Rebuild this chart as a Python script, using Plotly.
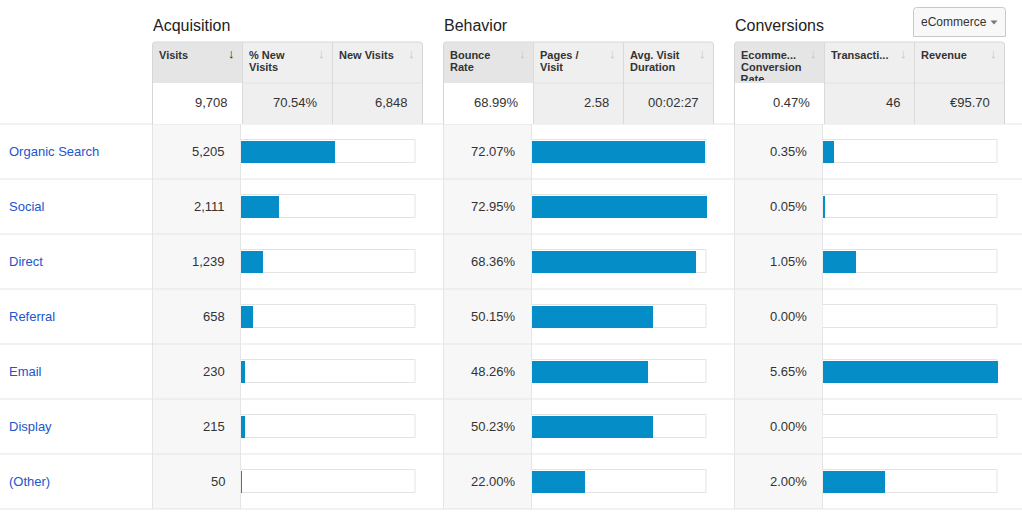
import plotly.graph_objects as go

W, H = 1022, 515

# ---------------- data ----------------
channels = ["Organic Search", "Social", "Direct", "Referral", "Email", "Display", "(Other)"]
visits = [5205, 2111, 1239, 658, 230, 215, 50]
bounce_rate = [72.07, 72.95, 68.36, 50.15, 48.26, 50.23, 22.00]
conv_rate = [0.35, 0.05, 1.05, 0.00, 5.65, 0.00, 2.00]

group_titles = ["Acquisition", "Behavior", "Conversions"]
header_labels = [
    [["Visits"], ["% New", "Visits"], ["New Visits"]],
    [["Bounce", "Rate"], ["Pages /", "Visit"], ["Avg. Visit", "Duration"]],
    [["Ecomme...", "Conversion"], ["Transacti..."], ["Revenue"]],
]
clipped_label = "Rate"
summary_values = [["9,708", "70.54%", "6,848"],
                  ["68.99%", "2.58", "00:02:27"],
                  ["0.47%", "46", "€95.70"]]
dropdown_label = "eCommerce"

visit_text = [f"{v:,}" for v in visits]
bounce_text = [f"{v:.2f}%" for v in bounce_rate]
conv_text = [f"{v:.2f}%" for v in conv_rate]

# ---------------- layout helpers (pixel -> paper) ----------------
FONT = "Liberation Sans, Arial, Helvetica, sans-serif"
BLUE = "#058dc7"
LINE = "#e5e5e5"
TXT = "#333333"


def X(x):
    return x / W


def Y(y):
    return 1 - y / H


G = [152.5, 443.5, 734.5]          # left edge of each group
ROW_TOP, ROW_H, NROW = 124, 55, len(channels)
ROW_BOT = ROW_TOP + ROW_H * NROW

shapes = []
annotations = []


def rect(x0, y0, x1, y1, fill=None, line=None, lw=1):
    shapes.append(dict(type="rect", xref="paper", yref="paper", layer="below",
                       x0=X(x0), x1=X(x1), y0=Y(y1), y1=Y(y0),
                       fillcolor=fill or "rgba(0,0,0,0)",
                       line=dict(color=line or "rgba(0,0,0,0)", width=lw if line else 0)))


def hline(x0, x1, y, color=LINE):
    shapes.append(dict(type="line", xref="paper", yref="paper", layer="below",
                       x0=X(x0), x1=X(x1), y0=Y(y), y1=Y(y), line=dict(color=color, width=1)))


def vline(x, y0, y1, color=LINE):
    shapes.append(dict(type="line", xref="paper", yref="paper", layer="below",
                       x0=X(x), x1=X(x), y0=Y(y0), y1=Y(y1), line=dict(color=color, width=1)))


def rpath(x0, y0, x1, y1, r, fill, line, closed_bottom=True):
    p = (f"M {X(x0)},{Y(y1)} L {X(x0)},{Y(y0 + r)} Q {X(x0)},{Y(y0)} {X(x0 + r)},{Y(y0)} "
         f"L {X(x1 - r)},{Y(y0)} Q {X(x1)},{Y(y0)} {X(x1)},{Y(y0 + r)} L {X(x1)},{Y(y1)}")
    if closed_bottom:
        p += " Z"
    shapes.append(dict(type="path", xref="paper", yref="paper", layer="below", path=p,
                       fillcolor=fill, line=dict(color=line, width=1)))


def text(x, y, s, size=13, color=TXT, xanchor="left", bold=False, yref="paper"):
    # compensate the annotation's internal padding
    if xanchor == "left":
        x -= 2
    elif xanchor == "right":
        x += 2
    annotations.append(dict(x=X(x), y=(Y(y) if yref == "paper" else y), xref="paper", yref=yref,
                            text=(f"<b>{s}</b>" if bold else s), showarrow=False,
                            xanchor=xanchor, yanchor="middle",
                            font=dict(family=FONT, size=size, color=color)))


# ---------------- row area ----------------
for g in G:
    rect(g, ROW_TOP, g + 88, ROW_BOT, fill="#f7f7f7")
    vline(g, ROW_TOP, ROW_BOT)
    vline(g + 88, ROW_TOP, ROW_BOT)
for i in range(NROW + 1):
    hline(0, W, ROW_TOP + ROW_H * i)

# row labels and values (placed on the category axis)
for i, ch in enumerate(channels):
    text(9, ch, ch, size=13, color="#2255cc", yref="y")
    text(G[0] + 72, ch, visit_text[i], xanchor="right", yref="y")
    text(G[1] + 72, ch, bounce_text[i], xanchor="right", yref="y")
    text(G[2] + 72, ch, conv_text[i], xanchor="right", yref="y")

# ---------------- headers ----------------
HT, HM, HB = 42, 83, 124
for gi, g in enumerate(G):
    text(g, 26, group_titles[gi], size=16, color="#222222")
    rpath(g, HT, g + 270, HB, 3, "#efefef", "rgba(0,0,0,0)")
    rect(g + 0.5, HT + 0.5, g + 90, HM, fill="#e5e5e5")
    rect(g + 0.5, HM, g + 90, HB, fill="#ffffff")
    hline(g + 90, g + 270, HM, color="#e3e3e3")
    vline(g + 90, HT, HB, color="#dadada")
    vline(g + 180, HT, HB, color="#dadada")
    rpath(g, HT, g + 270, HB, 3, "rgba(0,0,0,0)", "#d6d6d6", closed_bottom=False)
    for k in range(3):
        cx = g + 90 * k
        for li, lab in enumerate(header_labels[gi][k]):
            text(cx + 6, 54.5 + 12.5 * li, lab, size=11, bold=True)
        active = (gi == 0 and k == 0)
        arrow_col = "#222222" if active else "#c4c4c4"
        text(cx + 78.5, 53, "↓", size=13, color=arrow_col, xanchor="center", bold=active)
        text(cx + 75, 103, summary_values[gi][k], size=13, xanchor="right")

# dropdown button
rpath(913.5, 7.5, 1005.5, 36.5, 3, "#f8f8f8", "#c8c8c8")
shapes.append(dict(type="line", xref="paper", yref="paper", layer="below",
                   x0=X(916), x1=X(1003), y0=Y(36.5), y1=Y(36.5), line=dict(color="#c8c8c8", width=1)))
text(954, 22, dropdown_label, size=12, color="#333333", xanchor="center")
shapes.append(dict(type="path", xref="paper", yref="paper", layer="below",
                   path=f"M {X(990.5)},{Y(20.5)} L {X(997.5)},{Y(20.5)} L {X(994)},{Y(24.5)} Z",
                   fillcolor="#777777", line=dict(width=0)))

# ---------------- bars ----------------
fig = go.Figure()
total_visits = sum(visits)
max_bounce = max(bounce_rate)
max_conv = max(conv_rate)

series = [("x", visits, total_visits), ("x2", bounce_rate, max_bounce), ("x3", conv_rate, max_conv)]
for ax, vals, top in series:
    fig.add_trace(go.Bar(x=[top] * len(vals), y=channels, orientation="h", xaxis=ax, yaxis="y",
                         width=0.42, marker=dict(color="#ffffff", line=dict(color="#e3e3e3", width=1)),
                         hoverinfo="skip", showlegend=False))
    fig.add_trace(go.Bar(x=vals, y=channels, orientation="h", xaxis=ax, yaxis="y",
                         width=0.40, marker=dict(color=BLUE, line=dict(width=0)),
                         showlegend=False))

# clipped third header line ("Rate")
fig.add_trace(go.Scatter(x=[6], y=[80.5], mode="text", text=[f"<b>{clipped_label}</b>"],
                         textposition="middle right", xaxis="x4", yaxis="y4",
                         textfont=dict(family=FONT, size=11, color=TXT),
                         cliponaxis=True, hoverinfo="skip", showlegend=False))

hidden = dict(showgrid=False, zeroline=False, showticklabels=False, showline=False,
              ticks="", fixedrange=True)


def dom(g):
    return [X(g + 88), X(g + 264)]


fig.update_layout(
    width=W, height=H, margin=dict(l=0, r=0, t=0, b=0),
    paper_bgcolor="#ffffff", plot_bgcolor="rgba(0,0,0,0)",
    barmode="overlay", bargap=0,
    xaxis=dict(domain=dom(G[0]), range=[0, total_visits * 1.006], anchor="y", **hidden),
    xaxis2=dict(domain=dom(G[1]), range=[0, max_bounce * 1.004], anchor="y", **hidden),
    xaxis3=dict(domain=dom(G[2]), range=[0, max_conv * 1.004], anchor="y", **hidden),
    yaxis=dict(domain=[Y(ROW_BOT), Y(ROW_TOP)], type="category", categoryorder="array",
               categoryarray=channels, range=[NROW - 0.5, -0.5], anchor="x", **hidden),
    xaxis4=dict(domain=[X(G[2]), X(G[2] + 90)], range=[0, 90], anchor="y4", **hidden),
    yaxis4=dict(domain=[Y(81), Y(HT)], range=[81, HT], anchor="x4", **hidden),
    shapes=shapes, annotations=annotations,
    font=dict(family=FONT, color=TXT),
)

fig.write_html("out.html", config={"displayModeBar": False},
               post_script="document.body.style.margin='0';document.body.style.overflow='hidden';")
